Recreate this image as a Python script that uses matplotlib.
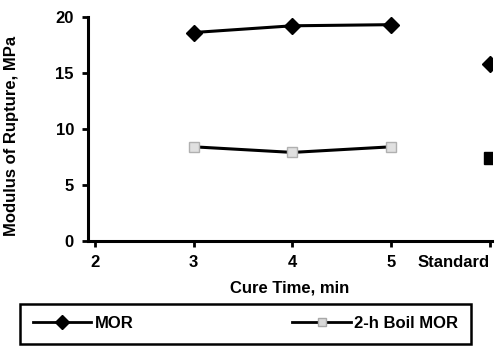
import matplotlib
matplotlib.use("Agg")
import matplotlib.pyplot as plt
from matplotlib.lines import Line2D

plt.rcParams['font.family'] = ['Liberation Sans', 'DejaVu Sans']
plt.rcParams['font.weight'] = 'bold'

cure_time = [3, 4, 5]
mor = [18.6, 19.2, 19.3]
boil_mor = [8.4, 7.9, 8.4]
standard_x = 6
standard_mor = 15.8
standard_boil = 7.4
x_ticks = [2, 3, 4, 5, 6]
x_tick_labels = ['2', '3', '4', '5', 'Standard']
y_ticks = [0, 5, 10, 15, 20]

fig = plt.figure(figsize=(5.02, 3.58), dpi=100)
ax = fig.add_axes([0.175, 0.327, 0.805, 0.626])

ax.plot(cure_time, mor, color='black', lw=2.2, marker='D', ms=8, mfc='black', mec='black')
ax.plot(cure_time, boil_mor, color='black', lw=2.2, marker='s', ms=7, mfc='#e0e0e0', mec='#b0b0b0')
ax.plot([standard_x], [standard_mor], ls='none', marker='D', ms=8, color='black')
ax.plot([standard_x], [standard_boil], ls='none', marker='s', ms=8, color='black')

ax.set_xlim(1.93, 6.02)
ax.set_ylim(0, 20)
ax.set_xticks(x_ticks)
ax.set_xticklabels(x_tick_labels, fontsize=12, fontweight='bold')
labs = ax.get_xticklabels()
labs[-1].set_horizontalalignment('right')
ax.set_yticks(y_ticks)
ax.set_yticklabels([str(v) for v in y_ticks], fontsize=12, fontweight='bold')
for s in ['top', 'right']:
    ax.spines[s].set_visible(False)
for s in ['left', 'bottom']:
    ax.spines[s].set_linewidth(2.2)
ax.tick_params(direction='out', length=4, width=2, pad=6)

ax.set_xlabel('Cure Time, min', fontsize=12, fontweight='bold', labelpad=8)
ax.set_ylabel('Modulus of Rupture, MPa', fontsize=12, fontweight='bold')
ax.yaxis.set_label_coords(-0.17, 0.47)

handles = [
    Line2D([], [], color='black', lw=2, marker='D', ms=7, mfc='black', mec='black'),
    Line2D([], [], color='black', lw=2, marker='s', ms=6, mfc='#d9d9d9', mec='#a8a8a8'),
]
leg = fig.legend(handles, ['MOR', '2-h Boil MOR'], loc='lower left',
                 bbox_to_anchor=(0.024, 0.017, 0.93, 0.12), mode='expand', ncol=2,
                 fancybox=False, edgecolor='black', framealpha=1,
                 prop={'weight': 'bold', 'size': 12}, borderpad=0.75,
                 handlelength=3.5, handletextpad=0.2, columnspacing=1.0)
leg.get_frame().set_linewidth(1.8)

fig.savefig('out.png', dpi=100)
